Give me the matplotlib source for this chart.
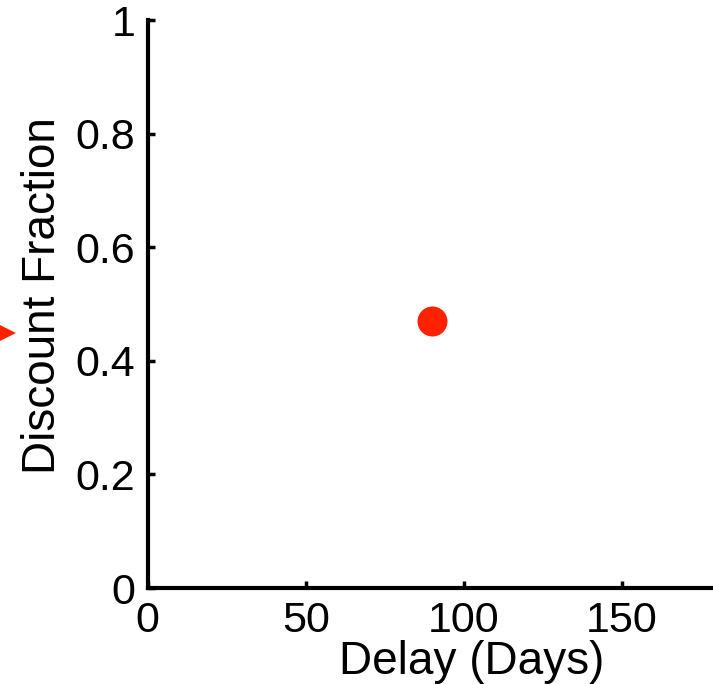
import matplotlib.pyplot as plt

plt.rcParams['font.family'] = ['Liberation Sans', 'DejaVu Sans']

# data
delay_days = [90]
discount_fraction = [0.47]
marker_level = [0.449]   # red arrow marker left of the axis
x_ticks = [0, 50, 100, 150]
y_ticks = [0, 0.2, 0.4, 0.6, 0.8, 1]
y_ticklabels = ['0', '0.2', '0.4', '0.6', '0.8', '1']

red = '#ff2200'

fig = plt.figure(figsize=(7.13, 6.84), dpi=100)
W, H = 713, 684
# the axes run past the right edge of the picture (cropped like the original)
ax = fig.add_axes([147.7 / W, (H - 588) / H, (795.5 - 147.7) / W, (588 - 20) / H])

ax.plot(delay_days, discount_fraction, 'o', color=red, markersize=21.6, markeredgewidth=0)
# arrow marker at far left, partly outside the figure
ax.plot([-45.5], marker_level, '>', color=red, markersize=17, markeredgewidth=0, clip_on=False)

ax.set_xlim(0, 205)
ax.set_ylim(0, 1)
ax.set_xticks(x_ticks)
ax.set_yticks(y_ticks)
ax.set_yticklabels(y_ticklabels)

for s in ['top', 'right']:
    ax.spines[s].set_visible(False)
for s in ['left', 'bottom']:
    ax.spines[s].set_linewidth(3)
ax.tick_params(direction='in', length=5, width=2.5, labelsize=31, pad=9)

ax.set_xlabel('Delay (Days)', fontsize=33, labelpad=0)
ax.set_ylabel('Discount Fraction', fontsize=33)
ax.yaxis.set_label_coords(-0.127, 0.515)

fig.savefig('out.png', dpi=100)
